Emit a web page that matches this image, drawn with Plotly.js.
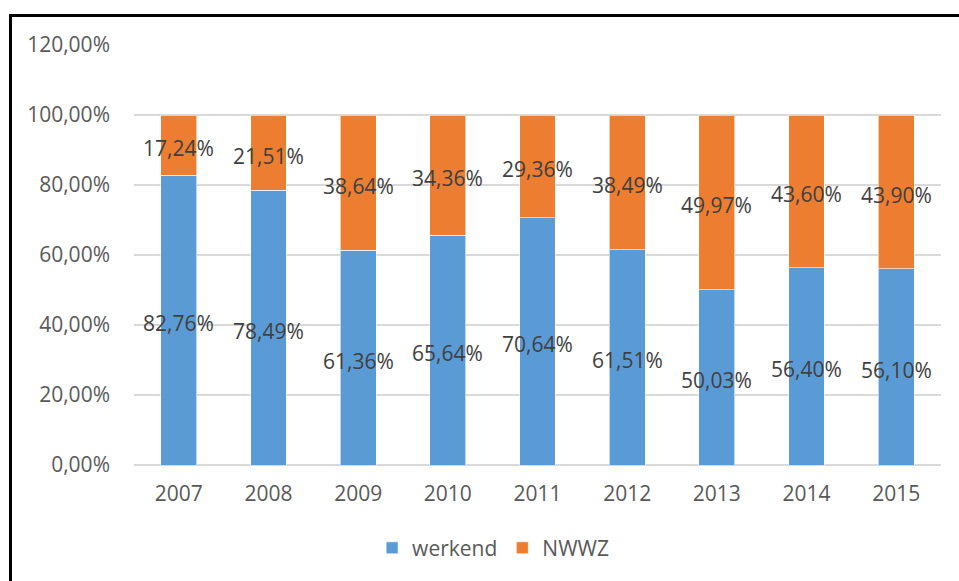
<!DOCTYPE html>
<html>
<head>
<meta charset="utf-8">
<script src="https://cdn.plot.ly/plotly-3.0.1.min.js"></script>
<style>
  html, body { margin: 0; padding: 0; background: #fff; }
  #wrap { position: relative; width: 959px; height: 581px; overflow: hidden; }
  #chart { width: 959px; height: 581px; }
  #frame { position: absolute; left: 9px; top: 14px; width: 2000px; height: 2000px;
           border-left: 3px solid #000; border-top: 3px solid #000; pointer-events: none; }
</style>
</head>
<body>
<div id="wrap">
  <div id="chart"></div>
  <div id="frame"></div>
</div>
<script>
const years = ['2007', '2008', '2009', '2010', '2011', '2012', '2013', '2014', '2015'];
const werkend = [82.76, 78.49, 61.36, 65.64, 70.64, 61.51, 50.03, 56.40, 56.10];
const nwwz = [17.24, 21.51, 38.64, 34.36, 29.36, 38.49, 49.97, 43.60, 43.90];
const yTicks = [0, 20, 40, 60, 80, 100, 120];
const yTickText = ['0,00%', '20,00%', '40,00%', '60,00%', '80,00%', '100,00%', '120,00%'];

const fmt = v => v.toFixed(2).replace('.', ',') + '%';
const FONT = 'Open Sans, Noto Sans, sans-serif';
const FS = 21;

const traces = [
  {
    type: 'bar', name: 'werkend', x: years, y: werkend,
    marker: { color: '#5B9BD5', line: { color: 'rgba(255,255,255,0.6)', width: 1 } },
    hoverinfo: 'skip'
  },
  {
    type: 'bar', name: 'NWWZ', x: years, y: nwwz,
    marker: { color: '#ED7D31', line: { color: 'rgba(255,255,255,0.6)', width: 1 } },
    hoverinfo: 'skip'
  }
];

const labelFont = { family: FONT, size: FS, color: '#404040' };
const annotations = [];
years.forEach((yr, i) => {
  annotations.push({ x: i, y: werkend[i] / 2, text: fmt(werkend[i]), showarrow: false,
                     font: labelFont, yshift: -3 });
  annotations.push({ x: i, y: werkend[i] + nwwz[i] / 2, text: fmt(nwwz[i]), showarrow: false,
                     font: labelFont, yshift: -3 });
});

const layout = {
  width: 959, height: 581,
  margin: { l: 134, r: 18, t: 45, b: 116 },
  paper_bgcolor: '#fff', plot_bgcolor: '#fff',
  barmode: 'stack', bargap: 0.6,
  separators: ',.',
  font: { family: FONT, size: FS, color: '#595959' },
  xaxis: {
    type: 'category', range: [-0.5, years.length - 0.5],
    showgrid: false, showline: false, zeroline: false,
    ticks: '', ticklabelstandoff: 14,
    tickfont: { family: FONT, size: FS, color: '#595959' }
  },
  yaxis: {
    range: [0, 120], tickmode: 'array', tickvals: yTicks, ticktext: yTickText,
    showgrid: true, gridcolor: '#D9D9D9', gridwidth: 1.5,
    zeroline: true, zerolinecolor: '#D9D9D9', zerolinewidth: 1.5,
    showline: false, ticks: '', ticklabelstandoff: 23,
    tickfont: { family: FONT, size: FS, color: '#595959' }
  },
  legend: {
    orientation: 'h', x: 0.445, xanchor: 'center', y: -0.198, yanchor: 'middle',
    itemwidth: 30,
    font: { family: FONT, size: FS, color: '#595959' }, traceorder: 'normal'
  },
  annotations: annotations,
  showlegend: true
};

Plotly.newPlot('chart', traces, layout, { staticPlot: true, displayModeBar: false });
</script>
</body>
</html>
